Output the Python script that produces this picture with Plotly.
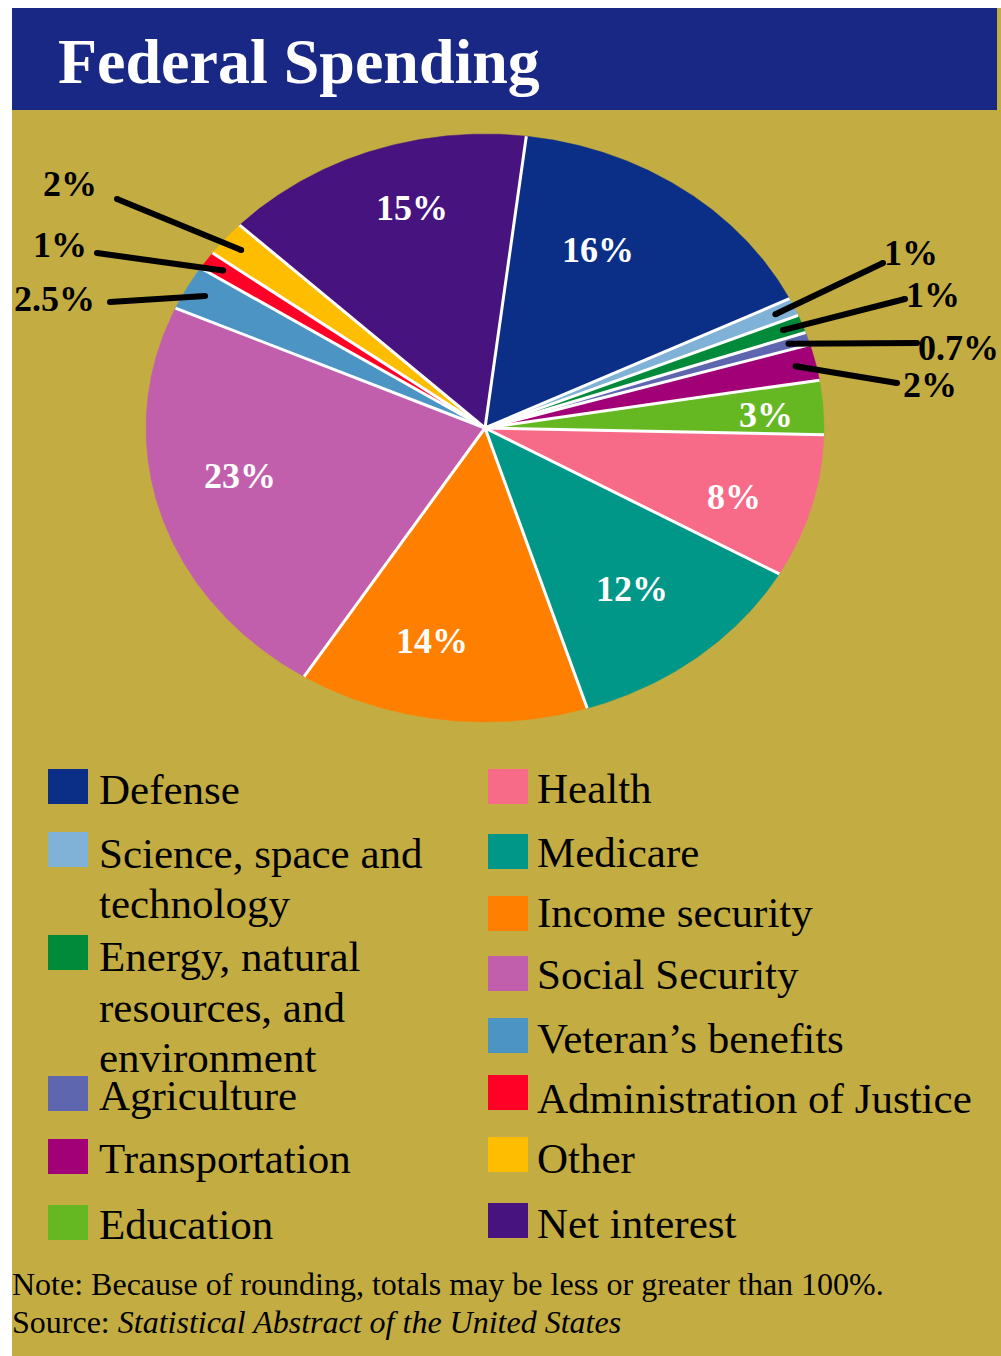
import numpy as np
import plotly.graph_objects as go

# ---------------- data ----------------
categories = ["Defense", "Science, space and technology",
              "Energy, natural resources, and environment", "Agriculture",
              "Transportation", "Education", "Health", "Medicare",
              "Income security", "Social Security", "Veteran\u2019s benefits",
              "Administration of Justice", "Other", "Net interest"]
values = [16, 1, 1, 0.7, 2, 3, 8, 12, 14, 23, 2.5, 1, 2, 15]
pct_labels = ["16%", "1%", "1%", "0.7%", "2%", "3%", "8%", "12%", "14%",
              "23%", "2.5%", "1%", "2%", "15%"]
colors = ["#0B2F86", "#7FB2D6", "#008A3A", "#5E66B0", "#A20076", "#66B822",
          "#F76B89", "#009688", "#FF8000", "#C25FAD", "#4C94C4", "#FF0026",
          "#FFBD00", "#46137F"]

# legend layout (lines of text per entry), two columns
legend_left = [("Defense", ["Defense"]),
               ("Science, space and technology", ["Science, space and", "technology"]),
               ("Energy, natural resources, and environment",
                ["Energy, natural", "resources, and", "environment"]),
               ("Agriculture", ["Agriculture"]),
               ("Transportation", ["Transportation"]),
               ("Education", ["Education"])]
legend_right = [("Health", ["Health"]), ("Medicare", ["Medicare"]),
                ("Income security", ["Income security"]),
                ("Social Security", ["Social Security"]),
                ("Veteran\u2019s benefits", ["Veteran\u2019s benefits"]),
                ("Administration of Justice", ["Administration of Justice"]),
                ("Other", ["Other"]), ("Net interest", ["Net interest"])]

# ---------------- style / geometry ----------------
W, H = 1001, 1356
CX, CY, RX, RY = 485, 428, 339, 294
START = 7.0
SERIF = "Liberation Serif, Times New Roman, serif"
OLIVE = "#C3AD42"
BANNER = "#1A2885"

# inside label placement: (radius fraction, angle nudge)
inside = {"Defense": (0.69, -6.6), "Education": (0.83, 1.0), "Health": (0.77, 2.2),
          "Medicare": (0.70, 0.5), "Income security": (0.74, 4.8),
          "Social Security": (0.74, 4.1), "Net interest": (0.78, 3.7)}
# outside labels: text centre and leader outer end
outside = {"Science, space and technology": ((911, 253), (883, 263)),
           "Energy, natural resources, and environment": ((933, 295), (905, 299)),
           "Agriculture": ((958, 348), (917, 343)),
           "Transportation": ((930, 385), (897, 383)),
           "Veteran\u2019s benefits": ((54, 299), (110, 302)),
           "Administration of Justice": ((60, 245), (97, 253)),
           "Other": ((70, 184), (117, 199))}
left_sq_tops = [769, 832, 935, 1076, 1139, 1205]
left_base = [[804], [868, 918], [971, 1022, 1072], [1110], [1173], [1239]]
right_sq_tops = [769, 834, 896, 956, 1018, 1075, 1137, 1203]
right_base = [[803], [867], [927], [989], [1053], [1113], [1173], [1238]]


def pt(theta, r=1.0):
    t = np.radians(theta)
    return CX + RX * r * np.sin(t), CY - RY * r * np.cos(t)


fig = go.Figure()
total = float(sum(values))
cum = np.concatenate([[0], np.cumsum(values)])
a_start = START + cum[:-1] / total * 360
a_end = START + cum[1:] / total * 360

# slices
for i, cat in enumerate(categories):
    th = np.linspace(a_start[i], a_end[i], max(3, int((a_end[i] - a_start[i]) * 3)))
    ex, ey = pt(th)
    xs = np.concatenate([[CX], ex, [CX]])
    ys = np.concatenate([[CY], ey, [CY]])
    fig.add_trace(go.Scatter(x=xs, y=ys, fill="toself", fillcolor=colors[i],
                             mode="lines", line=dict(width=0.5, color=colors[i]),
                             name=cat, hoverinfo="name", showlegend=False))

# white separators
for a in a_start:
    ex, ey = pt(a)
    fig.add_trace(go.Scatter(x=[CX, ex], y=[CY, ey], mode="lines",
                             line=dict(color="white", width=3),
                             hoverinfo="skip", showlegend=False))

annotations = []
# inside labels
for i, cat in enumerate(categories):
    mid = (a_start[i] + a_end[i]) / 2
    if cat in inside:
        r, d = inside[cat]
        x, y = pt(mid + d, r)
        annotations.append(dict(x=x, y=y, xref="x", yref="y", text="<b>%s</b>" % pct_labels[i],
                                showarrow=False, font=dict(family=SERIF, size=36, color="white"),
                                xanchor="center", yanchor="middle"))
    elif cat in outside:
        (tx, ty), (ox, oy) = outside[cat]
        ix, iy = pt(mid, 0.94)
        fig.add_trace(go.Scatter(x=[ix, ox], y=[iy, oy], mode="lines+markers",
                                 line=dict(color="black", width=6),
                                 marker=dict(color="black", size=6),
                                 hoverinfo="skip", showlegend=False))
        annotations.append(dict(x=tx, y=ty, xref="x", yref="y", text="<b>%s</b>" % pct_labels[i],
                                showarrow=False, font=dict(family=SERIF, size=36, color="black"),
                                xanchor="center", yanchor="middle"))

# title
annotations.append(dict(x=56, y=83 - 0.3375 * 64, xref="x", yref="y",
                        text="<b>Federal Spending</b>", showarrow=False,
                        font=dict(family=SERIF, size=64, color="white"),
                        xanchor="left", yanchor="middle"))

shapes = [dict(type="rect", xref="x", yref="y", x0=12, x1=W, y0=8, y1=H,
               fillcolor=OLIVE, line=dict(width=0), layer="below"),
          dict(type="rect", xref="x", yref="y", x0=12, x1=997, y0=8, y1=110,
               fillcolor=BANNER, line=dict(width=0), layer="below")]

LF = 43
cidx = {c: i for i, c in enumerate(categories)}
for entries, tops, bases, sx, tx in ((legend_left, left_sq_tops, left_base, 48, 97),
                                     (legend_right, right_sq_tops, right_base, 488, 535)):
    for (cat, lines), top, bl in zip(entries, tops, bases):
        shapes.append(dict(type="rect", xref="x", yref="y", x0=sx, x1=sx + 40,
                           y0=top, y1=top + 35, fillcolor=colors[cidx[cat]],
                           line=dict(width=0), layer="above"))
        for line, b in zip(lines, bl):
            annotations.append(dict(x=tx, y=b - 0.3375 * LF, xref="x", yref="y",
                                    text=line, showarrow=False,
                                    font=dict(family=SERIF, size=LF, color="black"),
                                    xanchor="left", yanchor="middle"))

NF = 32
annotations.append(dict(x=10, y=1295 - 0.3375 * NF, xref="x", yref="y",
                        text="Note: Because of rounding, totals may be less or greater than 100%.",
                        showarrow=False, font=dict(family=SERIF, size=NF, color="black"),
                        xanchor="left", yanchor="middle"))
annotations.append(dict(x=10, y=1333 - 0.3375 * NF, xref="x", yref="y",
                        text="Source: <i>Statistical Abstract of the United States</i>",
                        showarrow=False, font=dict(family=SERIF, size=NF, color="black"),
                        xanchor="left", yanchor="middle"))

fig.update_layout(
    width=W, height=H, margin=dict(l=0, r=0, t=0, b=0, pad=0),
    paper_bgcolor="white", plot_bgcolor="rgba(0,0,0,0)",
    xaxis=dict(range=[0, W], domain=[0, 1], visible=False, fixedrange=True),
    yaxis=dict(range=[H, 0], domain=[0, 1], visible=False, fixedrange=True),
    shapes=shapes, annotations=annotations, showlegend=False,
)
fig.write_html("out.html")
